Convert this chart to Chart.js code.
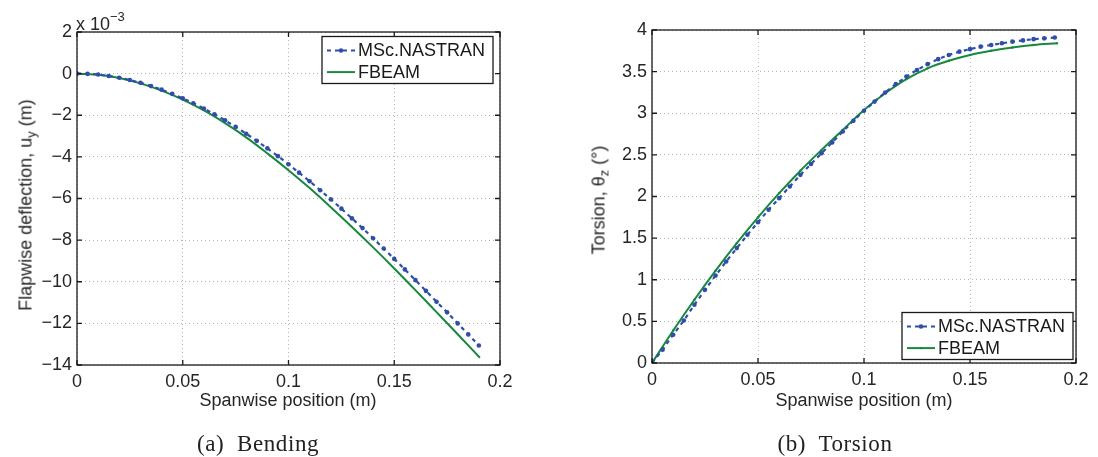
<!DOCTYPE html>
<html>
<head>
<meta charset="utf-8">
<script src="https://cdn.jsdelivr.net/npm/chart.js@4.4.1/dist/chart.umd.min.js"></script>
<style>
  body { margin: 0; background: #fff; }
  #wrap { position: relative; width: 1098px; height: 457px; overflow: hidden;
          font-family: "Liberation Sans", Arial, sans-serif; color: #262626; }
  canvas { position: absolute; left: 0; top: 0; }
  .ylab { position: absolute; font-size: 18px; white-space: nowrap;
          transform: translate(-50%, -50%) rotate(-90deg); }
  .ylab sub { font-size: 13px; vertical-align: -4px; }
  .xlab { position: absolute; font-size: 18px; white-space: nowrap; transform: translate(-50%, -50%); }
  .cap { position: absolute; font-family: "Liberation Serif", serif; font-size: 23px; letter-spacing: 0.6px;
         white-space: nowrap; transform: translate(-50%, -50%); color: #222; }
  .expo { position: absolute; left: 76px; top: 9px; font-size: 18px; }
  .expo sup { font-size: 13px; vertical-align: 9px; }
</style>
</head>
<body>
<div id="wrap">
  <canvas id="bend" width="1098" height="457"></canvas>
  <canvas id="tors" width="1098" height="457"></canvas>
  <div class="expo">x 10<sup>&minus;3</sup></div>
  <div class="ylab" style="left:27px; top:205px">Flapwise deflection, u<sub>y</sub> (m)</div>
  <div class="ylab" style="left:600px; top:200px">Torsion, &theta;<sub>z</sub> (&deg;)</div>
  <div class="xlab" style="left:288px; top:400px">Spanwise position (m)</div>
  <div class="xlab" style="left:864px; top:400px">Spanwise position (m)</div>
  <div class="cap" style="left:258px; top:444px">(a)&nbsp; Bending</div>
  <div class="cap" style="left:835px; top:444px">(b)&nbsp; Torsion</div>
</div>
<script>
// spanwise positions (m)
const nasX = [0, 0.005, 0.01, 0.015, 0.02, 0.025, 0.03, 0.035, 0.04, 0.045, 0.05, 0.055, 0.06, 0.065,
  0.07, 0.075, 0.08, 0.085, 0.09, 0.095, 0.1, 0.105, 0.11, 0.115, 0.12, 0.125, 0.13, 0.135, 0.14,
  0.145, 0.15, 0.155, 0.16, 0.165, 0.17, 0.175, 0.18, 0.185, 0.19];
const bendFbX = [0, 0.01, 0.02, 0.03, 0.04, 0.05, 0.06, 0.07, 0.08, 0.09, 0.1, 0.11, 0.12, 0.13, 0.14,
  0.15, 0.16, 0.17, 0.18, 0.1905];
const torsFbX = [0, 0.01, 0.02, 0.03, 0.04, 0.05, 0.06, 0.07, 0.08, 0.09, 0.1, 0.11, 0.12, 0.13, 0.14,
  0.15, 0.16, 0.17, 0.18, 0.191];

// flapwise deflection (x 10^-3 m)
const bendNas = [0, -0.01, -0.045, -0.114, -0.198, -0.307, -0.441, -0.599, -0.77, -0.972, -1.187, -1.422,
  -1.678, -1.953, -2.246, -2.557, -2.887, -3.23, -3.591, -3.965, -4.355, -4.758, -5.172, -5.6, -6.04,
  -6.488, -6.957, -7.423, -7.91, -8.403, -8.903, -9.407, -9.92, -10.44, -10.96, -11.47, -12.0, -12.53, -13.06];
const bendFb = [0, -0.05, -0.21, -0.47, -0.82, -1.25, -1.77, -2.38, -3.06, -3.83, -4.64, -5.5, -6.42,
  -7.37, -8.35, -9.36, -10.4, -11.46, -12.52, -13.65];

// torsion (deg)
const torsNas = [0, 0.16, 0.34, 0.51, 0.70, 0.88, 1.05, 1.22, 1.38, 1.54, 1.69, 1.84, 1.98, 2.12, 2.26,
  2.39, 2.52, 2.65, 2.78, 2.91, 3.03, 3.14, 3.25, 3.35, 3.44, 3.52, 3.59, 3.65, 3.70, 3.74, 3.77, 3.80,
  3.82, 3.84, 3.86, 3.875, 3.89, 3.90, 3.91];
const torsFb = [0, 0.39, 0.76, 1.11, 1.44, 1.75, 2.04, 2.31, 2.56, 2.8, 3.04, 3.24, 3.41, 3.54, 3.63,
  3.70, 3.75, 3.79, 3.82, 3.84];

const xTicks = [0, 0.05, 0.1, 0.15, 0.2];
const bendTicks = [2, 0, -2, -4, -6, -8, -10, -12, -14];
const torsTicks = [4, 3.5, 3, 2.5, 2, 1.5, 1, 0.5, 0];

const BLUE = '#2F4EA8';
const GREEN = '#17883D';
const FONT = { family: '"Liberation Sans", Arial, sans-serif', size: 18 };

const pts = (xs, ys) => xs.map((x, i) => ({ x: x, y: ys[i] }));
const minus = v => (v < 0 ? '\u2212' + (-v) : String(v));

// box, inward ticks and boxed legend like matlab
const framePlugin = {
  id: 'frame',
  afterDraw(chart, args, opts) {
    const { ctx, chartArea: a, scales } = chart;
    ctx.save();
    ctx.strokeStyle = '#1a1a1a';
    ctx.lineWidth = 1.3;
    ctx.beginPath();
    scales.x.ticks.forEach(t => {
      const p = scales.x.getPixelForValue(t.value);
      ctx.moveTo(p, a.bottom); ctx.lineTo(p, a.bottom - 5);
      ctx.moveTo(p, a.top); ctx.lineTo(p, a.top + 5);
    });
    scales.y.ticks.forEach(t => {
      const p = scales.y.getPixelForValue(t.value);
      ctx.moveTo(a.left, p); ctx.lineTo(a.left + 5, p);
      ctx.moveTo(a.right, p); ctx.lineTo(a.right - 5, p);
    });
    ctx.stroke();
    ctx.strokeRect(a.left, a.top, a.right - a.left, a.bottom - a.top);

    // legend
    ctx.font = '18px "Liberation Sans", Arial, sans-serif';
    const sets = chart.data.datasets;
    const tw = Math.max(...sets.map(d => ctx.measureText(d.label).width));
    const w = 38 + tw + 6, h = 47;
    const x1 = a.right - opts.right - w;
    const y1 = opts.top != null ? a.top + opts.top : a.bottom - opts.bottom - h;
    ctx.fillStyle = '#fff';
    ctx.fillRect(x1, y1, w, h);
    ctx.lineWidth = 1.3;
    ctx.strokeStyle = '#1a1a1a';
    ctx.strokeRect(x1, y1, w, h);
    sets.forEach((d, i) => {
      const cy = y1 + 14 + i * 21.6;
      ctx.strokeStyle = d.borderColor;
      ctx.lineWidth = 2;
      ctx.setLineDash(d.borderDash || []);
      ctx.beginPath(); ctx.moveTo(x1 + 5, cy); ctx.lineTo(x1 + 33, cy); ctx.stroke();
      ctx.setLineDash([]);
      if (d.pointRadius > 1) {
        ctx.fillStyle = d.borderColor;
        ctx.beginPath(); ctx.arc(x1 + 19, cy, d.pointRadius, 0, Math.PI * 2); ctx.fill();
      }
      ctx.fillStyle = '#1a1a1a';
      ctx.textBaseline = 'middle';
      ctx.fillText(d.label, x1 + 36, cy + 1);
    });
    ctx.restore();
  }
};

function makeChart(id, cfg) {
  return new Chart(document.getElementById(id), {
    type: 'scatter',
    data: {
      datasets: [
        {
          label: 'MSc.NASTRAN', data: cfg.nas, showLine: true,
          borderColor: BLUE, backgroundColor: BLUE, borderWidth: 2.2, borderDash: [4, 4],
          pointRadius: 2.3, pointBorderWidth: 0, pointHoverRadius: 0, order: 1
        },
        {
          label: 'FBEAM', data: cfg.fb, showLine: true,
          borderColor: GREEN, backgroundColor: GREEN, borderWidth: 2,
          pointRadius: cfg.fbDots, pointBorderWidth: 0, cubicInterpolationMode: 'monotone', order: 2
        }
      ]
    },
    options: {
      responsive: false,
      animation: false,
      events: [],
      layout: { padding: cfg.pad },
      plugins: { legend: { display: false }, tooltip: { enabled: false }, frame: cfg.legend },
      scales: {
        x: {
          type: 'linear', min: 0, max: 0.2,
          afterBuildTicks: s => { s.ticks = xTicks.map(v => ({ value: v })); },
          afterFit: s => { s.height = cfg.xH; },
          ticks: { font: FONT, color: '#262626', padding: 6, maxRotation: 0,
                   callback: v => String(+v.toFixed(2)) },
          grid: { color: '#b5b5b5', lineWidth: 1, drawTicks: false },
          border: { display: false, dash: [1, 3] }
        },
        y: {
          type: 'linear', min: cfg.yMin, max: cfg.yMax,
          afterBuildTicks: s => { s.ticks = cfg.yTicks.map(v => ({ value: v })); },
          afterFit: s => { s.width = cfg.yW; },
          ticks: { font: FONT, color: '#262626', padding: 5, callback: minus },
          grid: { color: '#b5b5b5', lineWidth: 1, drawTicks: false },
          border: { display: false, dash: [1, 3] }
        }
      }
    },
    plugins: [framePlugin]
  });
}

makeChart('bend', {
  nas: pts(nasX, bendNas), fb: pts(bendFbX, bendFb), fbDots: 0,
  yMin: -14, yMax: 2, yTicks: bendTicks,
  pad: { left: 0, top: 32, right: 598, bottom: 0 }, yW: 77, xH: 92,
  legend: { right: 7, top: 4.5 }
});

makeChart('tors', {
  nas: pts(nasX, torsNas), fb: pts(torsFbX, torsFb), fbDots: 1.2,
  yMin: 0, yMax: 4, yTicks: torsTicks,
  pad: { left: 592, top: 30, right: 22, bottom: 0 }, yW: 60, xH: 94,
  legend: { right: 3, bottom: 3.5 }
});
</script>
</body>
</html>
